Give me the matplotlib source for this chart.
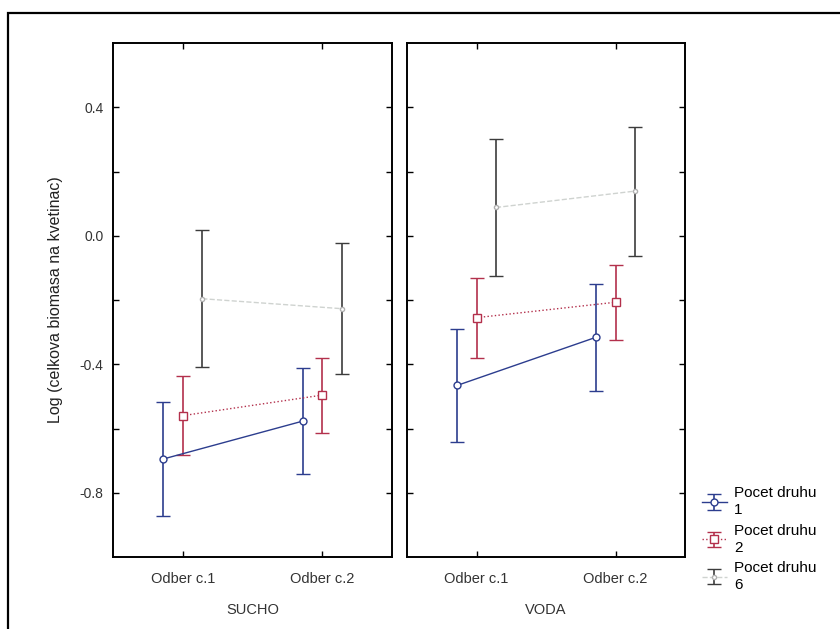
import matplotlib.pyplot as plt
from matplotlib.patches import Rectangle

plt.rcParams['font.family'] = ['Liberation Sans', 'DejaVu Sans']

categories = ['Odber c.1', 'Odber c.2']
panels = ['SUCHO', 'VODA']
series_names = ['Pocet druhu\n1', 'Pocet druhu\n2', 'Pocet druhu\n6']

# means and half-widths of the error bars, per panel: [Odber 1, Odber 2]
means = {
    'SUCHO': [[-0.695, -0.577], [-0.560, -0.496], [-0.196, -0.227]],
    'VODA': [[-0.466, -0.316], [-0.255, -0.207], [0.088, 0.139]],
}
errors = {
    'SUCHO': [[0.178, 0.166], [0.124, 0.117], [0.214, 0.204]],
    'VODA': [[0.177, 0.166], [0.125, 0.116], [0.214, 0.201]],
}

y_ticks = [0.4, 0.2, 0.0, -0.2, -0.4, -0.6, -0.8]
y_tick_labels = ['0.4', '', '0.0', '', '-0.4', '', '-0.8']

offsets = [-0.14, 0.0, 0.14]
line_colors = ['#2c3d8e', '#b3304c', '#cfd3d0']
err_colors = ['#2c3d8e', '#b3304c', '#3c3c3c']
markers = ['o', 's', 'o']
marker_sizes = [5, 5.5, 3]
linestyles = ['-', ':', '--']

fig = plt.figure(figsize=(8.4, 6.29), dpi=100)
# outer frame around the whole graph
fig.add_artist(Rectangle((8 / 840, -0.2), 1.2, 1.2 - 13 / 629,
                         transform=fig.transFigure, fill=False,
                         edgecolor='black', linewidth=1.6))

ax_left = fig.add_axes([113 / 840, 72 / 629, 279 / 840, 514 / 629])
ax_right = fig.add_axes([407 / 840, 72 / 629, 278 / 840, 514 / 629])

handles = []
for ax, panel in zip([ax_left, ax_right], panels):
    for i in range(3):
        xs = [j + offsets[i] for j in range(len(categories))]
        cont = ax.errorbar(xs, means[panel][i], yerr=errors[panel][i],
                           color=line_colors[i], ecolor=err_colors[i],
                           linestyle=linestyles[i], linewidth=1.0,
                           elinewidth=1.2, capsize=5, capthick=1.2,
                           marker=markers[i], markersize=marker_sizes[i],
                           markerfacecolor='white',
                           markeredgecolor=err_colors[i] if i < 2 else '#b0b0b0',
                           markeredgewidth=1.0)
        if panel == 'SUCHO':
            handles.append(cont)

    ax.set_xlim(-0.5, 1.5)
    ax.set_ylim(-1.0, 0.6)
    ax.set_xticks(range(len(categories)))
    ax.set_xticklabels(categories, fontsize=10.5, color='#333333')
    ax.set_yticks(y_ticks)
    ax.tick_params(direction='in', top=True, right=True, length=4,
                   width=1.0, pad=11)
    ax.set_xlabel(panel, fontsize=10.5, color='#333333', labelpad=12)
    for side in ax.spines.values():
        side.set_linewidth(1.4)

ax_left.set_yticklabels(y_tick_labels, fontsize=10, color='#333333')
ax_left.tick_params(axis='y', pad=7)
ax_right.set_yticklabels([])
ax_left.set_ylabel('Log (celkova biomasa na kvetinac)', fontsize=11.5,
                   color='#222222', labelpad=12)

leg = fig.legend(handles, series_names, loc='upper left',
                 bbox_to_anchor=(696 / 840, 1 - 480 / 629), frameon=False,
                 fontsize=11, handlelength=1.6, handletextpad=0.5,
                 labelspacing=0.4, borderaxespad=0)
for t in leg.get_texts():
    t.set_linespacing(1.3)

fig.savefig('out.png', dpi=100)
